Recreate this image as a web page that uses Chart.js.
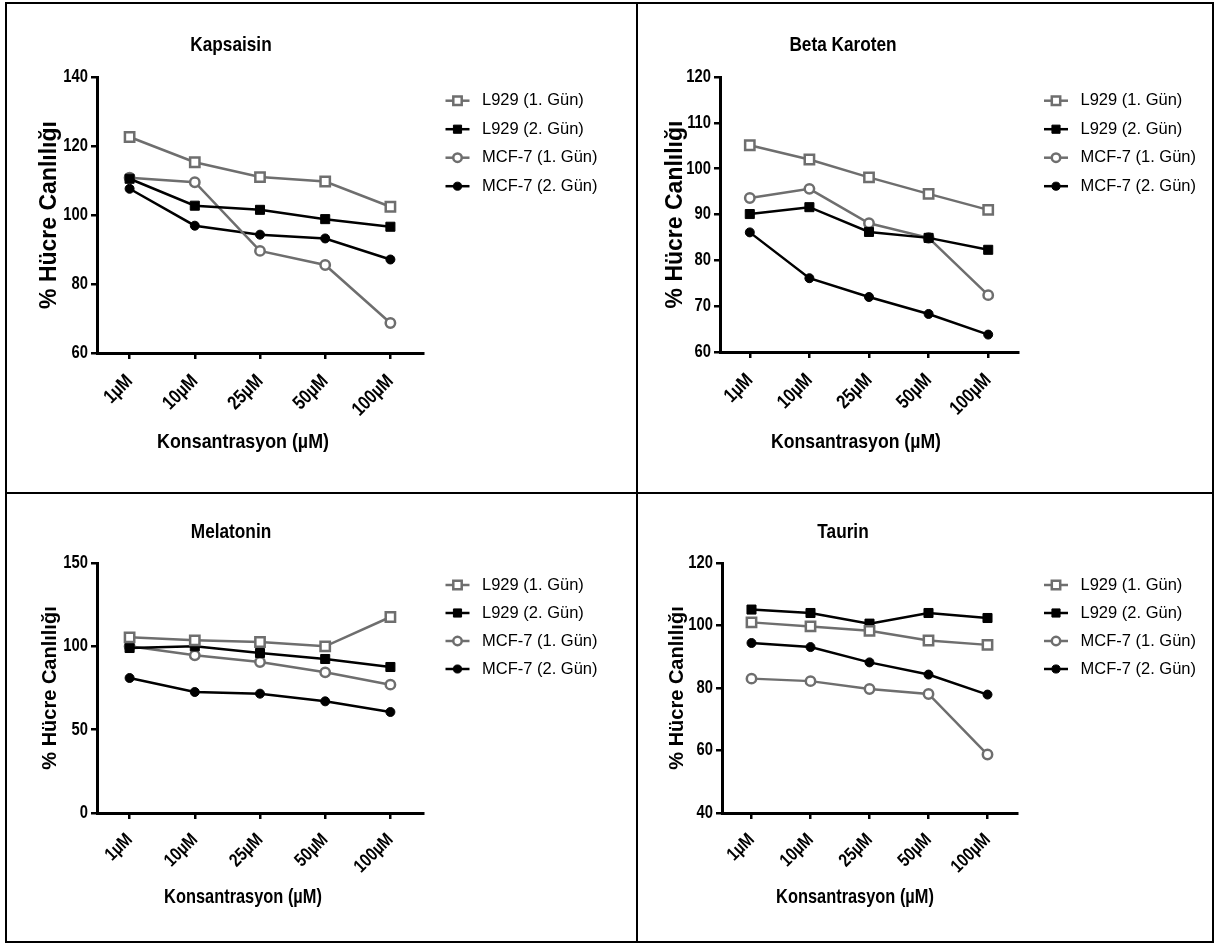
<!DOCTYPE html>
<html>
<head>
<meta charset="utf-8">
<script src="https://cdn.jsdelivr.net/npm/chart.js@4.4.1/dist/chart.umd.min.js"></script>
<style>
  html, body { margin: 0; padding: 0; background: #fff; }
  #page { position: relative; width: 1215px; height: 945px; overflow: hidden; }
  #page canvas { position: absolute; left: 0; top: 0; }
  .ln { position: absolute; background: #000; z-index: 5; }
</style>
</head>
<body>
<div id="page">
  <canvas id="c1" width="1215" height="945"></canvas>
  <canvas id="c2" width="1215" height="945"></canvas>
  <canvas id="c3" width="1215" height="945"></canvas>
  <canvas id="c4" width="1215" height="945"></canvas>
  <div class="ln" style="left:5px;top:2px;width:1209px;height:2px"></div>
  <div class="ln" style="left:5px;top:941px;width:1209px;height:2px"></div>
  <div class="ln" style="left:5px;top:2px;width:2px;height:941px"></div>
  <div class="ln" style="left:1212px;top:2px;width:2px;height:941px"></div>
  <div class="ln" style="left:636px;top:2px;width:2px;height:941px"></div>
  <div class="ln" style="left:5px;top:492px;width:1209px;height:2px"></div>
</div>
<script>
// concentrations on the x axis
const concentrations = ["1µM", "10µM", "25µM", "50µM", "100µM"];
const seriesNames = ["L929 (1. Gün)", "L929 (2. Gün)", "MCF-7 (1. Gün)", "MCF-7 (2. Gün)"];

// % cell viability
const kapsaisinL929Day1 = [122.6, 115.3, 111.0, 109.7, 102.4];
const kapsaisinL929Day2 = [110.5, 102.7, 101.5, 98.8, 96.6];
const kapsaisinMcf7Day1 = [110.8, 109.5, 89.6, 85.5, 68.7];
const kapsaisinMcf7Day2 = [107.6, 96.9, 94.3, 93.2, 87.1];

const betaL929Day1 = [105.1, 102.0, 98.1, 94.5, 91.0];
const betaL929Day2 = [90.1, 91.6, 86.2, 84.9, 82.3];
const betaMcf7Day1 = [93.6, 95.6, 88.1, 84.9, 72.4];
const betaMcf7Day2 = [86.1, 76.1, 72.0, 68.3, 63.8];

const melatoninL929Day1 = [105.4, 103.6, 102.6, 100.0, 117.6];
const melatoninL929Day2 = [99.0, 100.0, 96.0, 92.4, 87.6];
const melatoninMcf7Day1 = [100.0, 94.6, 90.6, 84.4, 77.0];
const melatoninMcf7Day2 = [81.0, 72.6, 71.6, 67.0, 60.6];

const taurinL929Day1 = [101.0, 99.7, 98.3, 95.2, 93.8];
const taurinL929Day2 = [105.1, 104.0, 100.6, 104.0, 102.4];
const taurinMcf7Day1 = [83.0, 82.2, 79.7, 78.1, 58.7];
const taurinMcf7Day2 = [94.4, 93.1, 88.2, 84.3, 77.9];

// y axis ticks per panel
const yTicksKapsaisin = [60, 80, 100, 120, 140];
const yTicksBeta = [60, 70, 80, 90, 100, 110, 120];
const yTicksMelatonin = [0, 50, 100, 150];
const yTicksTaurin = [40, 60, 80, 100, 120];

const sans = "'Liberation Sans', Arial, sans-serif";
const gray = "#6e6e6e";
const squeeze = 0.82;

const seriesStyle = [
  { borderColor: gray, pointStyle: "rect", pointRadius: 6.6, pointBorderWidth: 2.5, pointBackgroundColor: "#fff", pointBorderColor: gray },
  { borderColor: "#000", pointStyle: "rect", pointRadius: 6.4, pointBorderWidth: 1, pointBackgroundColor: "#000", pointBorderColor: "#000" },
  { borderColor: gray, pointStyle: "circle", pointRadius: 4.7, pointBorderWidth: 2.5, pointBackgroundColor: "#fff", pointBorderColor: gray },
  { borderColor: "#000", pointStyle: "circle", pointRadius: 4.5, pointBorderWidth: 1, pointBackgroundColor: "#000", pointBorderColor: "#000" }
];

// squeezed bold text, the export uses a narrow face
function narrowText(ctx, text, x, y, size, sq) {
  ctx.save();
  ctx.translate(x, y);
  ctx.scale(sq, 1);
  ctx.font = "bold " + size + "px " + sans;
  ctx.textAlign = "center";
  ctx.textBaseline = "middle";
  ctx.fillText(text, 0, 0);
  ctx.restore();
}

// tick labels: squeeze along the text direction while the scales draw
const narrowTicks = {
  id: "narrowTicks",
  beforeDraw(chart) {
    const ctx = chart.ctx;
    const fill = CanvasRenderingContext2D.prototype.fillText;
    ctx.fillText = function (text, x, y) {
      this.save();
      this.translate(x, y);
      this.scale(squeeze, 1);
      fill.call(this, text, 0, 0);
      this.restore();
    };
  },
  beforeDatasetsDraw(chart) {
    delete chart.ctx.fillText;
  }
};

// panel title, axis titles and legend, placed like the GraphPad export
const panelText = {
  id: "panelText",
  afterDraw(chart, args, o) {
    const ctx = chart.ctx;
    const area = chart.chartArea;
    ctx.save();
    ctx.fillStyle = "#000";
    narrowText(ctx, o.title, o.titleX, o.titleY, 21, 0.82);
    narrowText(ctx, "Konsantrasyon (µM)", o.xTitleX, o.xTitleY, 21, o.xSqueeze);

    ctx.save();
    ctx.translate(o.yTitleX, (area.top + area.bottom) / 2);
    ctx.rotate(-Math.PI / 2);
    ctx.font = "bold " + o.yTitleSize + "px " + sans;
    ctx.textAlign = "center";
    ctx.textBaseline = "middle";
    ctx.fillText("% Hücre Canlılığı", 0, 0);
    ctx.restore();

    ctx.textAlign = "left";
    ctx.textBaseline = "middle";
    ctx.font = "16.5px " + sans;
    chart.data.datasets.forEach((ds, i) => {
      const x = o.legendX;
      const y = o.legendY + i * o.legendStep;
      ctx.strokeStyle = ds.borderColor;
      ctx.lineWidth = 2.5;
      ctx.beginPath();
      ctx.moveTo(x - 12, y);
      ctx.lineTo(x + 12, y);
      ctx.stroke();
      ctx.fillStyle = ds.pointBackgroundColor;
      ctx.strokeStyle = ds.pointBorderColor;
      ctx.lineWidth = ds.pointBorderWidth;
      Chart.helpers.drawPoint(ctx, { pointStyle: ds.pointStyle, radius: ds.pointRadius * 0.9, borderWidth: ds.pointBorderWidth, rotation: 0 }, x, y);
      ctx.fillStyle = "#000";
      ctx.fillText(ds.label, x + 24.5, y);
    });
    ctx.restore();
  }
};

const panels = [
  { id: "c1", title: "Kapsaisin", values: [kapsaisinL929Day1, kapsaisinL929Day2, kapsaisinMcf7Day1, kapsaisinMcf7Day2],
    yTicks: yTicksKapsaisin, left: 7, area: { l: 97, r: 423, t: 77, b: 353 },
    titleX: 231, titleY: 45, xTitleX: 243, xTitleY: 442, xSqueeze: 0.85, yTitleX: 50, yTitleSize: 23,
    legendX: 457.5, legendY: 100.7, legendStep: 28.5, xPad: 11, xFont: 19.5 },
  { id: "c2", title: "Beta Karoten", values: [betaL929Day1, betaL929Day2, betaMcf7Day1, betaMcf7Day2],
    yTicks: yTicksBeta, left: 638, area: { l: 720, r: 1018, t: 77, b: 352 },
    titleX: 843, titleY: 45, xTitleX: 856, xTitleY: 442, xSqueeze: 0.84, yTitleX: 676, yTitleSize: 23,
    legendX: 1056, legendY: 100.7, legendStep: 28.5, xPad: 11, xFont: 19.5 },
  { id: "c3", title: "Melatonin", values: [melatoninL929Day1, melatoninL929Day2, melatoninMcf7Day1, melatoninMcf7Day2],
    yTicks: yTicksMelatonin, left: 7, area: { l: 97, r: 423, t: 563, b: 813 },
    titleX: 231, titleY: 532, xTitleX: 243, xTitleY: 897, xSqueeze: 0.78, yTitleX: 50, yTitleSize: 20,
    legendX: 457.5, legendY: 585, legendStep: 28, xPad: 10, xFont: 18.5 },
  { id: "c4", title: "Taurin", values: [taurinL929Day1, taurinL929Day2, taurinMcf7Day1, taurinMcf7Day2],
    yTicks: yTicksTaurin, left: 638, area: { l: 722, r: 1017, t: 563, b: 813 },
    titleX: 843, titleY: 532, xTitleX: 855, xTitleY: 897, xSqueeze: 0.78, yTitleX: 677, yTitleSize: 20,
    legendX: 1056, legendY: 585, legendStep: 28, xPad: 10, xFont: 18.5 }
];

panels.forEach((p) => {
  const datasets = p.values.map((v, i) => Object.assign({
    label: seriesNames[i],
    data: v,
    borderWidth: 2.5,
    tension: 0,
    fill: false
  }, seriesStyle[i]));

  new Chart(document.getElementById(p.id), {
    type: "line",
    data: { labels: concentrations, datasets: datasets },
    options: {
      responsive: false,
      animation: false,
      events: [],
      layout: { padding: { left: p.left, top: p.area.t, right: 1215 - p.area.r, bottom: 0 } },
      plugins: {
        legend: { display: false },
        tooltip: { enabled: false },
        panelText: p
      },
      scales: {
        x: {
          type: "category",
          offset: true,
          grid: { display: true, offset: false, drawOnChartArea: false, drawTicks: true, tickLength: 6, color: "#000", lineWidth: 2.5 },
          border: { display: true, color: "#000", width: 3 },
          ticks: { color: "#000", autoSkip: false, minRotation: 45, maxRotation: 45, padding: p.xPad,
            font: { family: sans, weight: "bold", size: p.xFont } },
          afterFit: (s) => { s.height = 945 - p.area.b; }
        },
        y: {
          min: p.yTicks[0],
          max: p.yTicks[p.yTicks.length - 1],
          grid: { display: true, drawOnChartArea: false, drawTicks: true, tickLength: 6, color: "#000", lineWidth: 2.5 },
          border: { display: true, color: "#000", width: 3 },
          ticks: { color: "#000", stepSize: p.yTicks[1] - p.yTicks[0], padding: 3,
            font: { family: sans, weight: "bold", size: 18 } },
          afterFit: (s) => { s.width = p.area.l - p.left; }
        }
      }
    },
    plugins: [narrowTicks, panelText]
  });
});
</script>
</body>
</html>
